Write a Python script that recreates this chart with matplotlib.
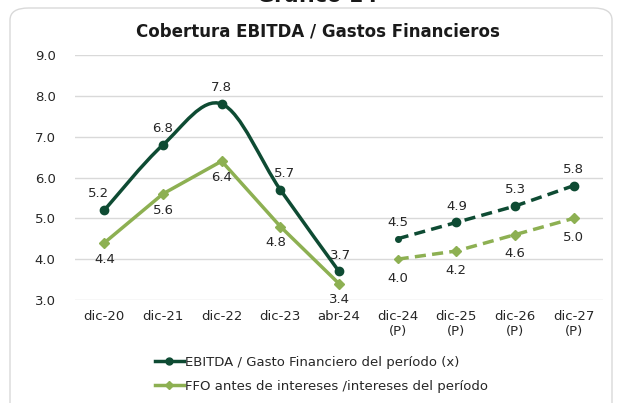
#!/usr/bin/env python3
"""
Cobertura EBITDA / Gastos Financieros: historical and projected coverage ratios.
"""

import numpy as np
import matplotlib
matplotlib.use("Agg")
import matplotlib.pyplot as plt
from matplotlib.path import Path
from matplotlib.patches import PathPatch, FancyBboxPatch
from matplotlib.lines import Line2D

# data
categories = ["dic-20", "dic-21", "dic-22", "dic-23", "abr-24",
              "dic-24\n(P)", "dic-25\n(P)", "dic-26\n(P)", "dic-27\n(P)"]
ebitda_hist = [5.2, 6.8, 7.8, 5.7, 3.7]
ffo_hist = [4.4, 5.6, 6.4, 4.8, 3.4]
ebitda_proj = [4.5, 4.9, 5.3, 5.8]
ffo_proj = [4.0, 4.2, 4.6, 5.0]

DARK = "#0E4B33"
LIGHT = "#8DB052"
TXT = "#262626"


def smooth_path(x, y):
    # Excel-like smoothed line as cubic Bezier segments through the points
    pts = np.column_stack([x, y]).astype(float)
    n = len(pts)
    verts = [pts[0]]
    codes = [Path.MOVETO]
    for i in range(n - 1):
        p0 = pts[i - 1] if i > 0 else pts[i]
        p1 = pts[i]
        p2 = pts[i + 1]
        p3 = pts[i + 2] if i + 2 < n else pts[i + 1]
        c1 = p1 + (p2 - p0) / 6.0
        c2 = p2 - (p3 - p1) / 6.0
        verts += [c1, c2, p2]
        codes += [Path.CURVE4] * 3
    return Path(verts, codes)


def main():
    plt.rcParams["font.family"] = ["DejaVu Sans"]
    fig = plt.figure(figsize=(6.19, 4.03), dpi=100)

    # rounded frame around the chart
    frame = FancyBboxPatch((10 / 619, -0.05), 602 / 619, 1 - 8 / 403 + 0.05,
                           boxstyle="round,pad=0,rounding_size=0.03",
                           transform=fig.transFigure, fc="white",
                           ec="#D9D9D9", lw=1.0, zorder=-5)
    fig.patches.append(frame)

    # clipped heading of the page above the chart
    fig.text(317 / 619, 1 - 1.5 / 403, "Gráfico 14", ha="center", va="baseline",
             fontsize=15, fontweight="bold", color="#1a1a1a")

    ax = fig.add_axes([75 / 619, 1 - 300 / 403, 528 / 619, 245 / 403])
    ax.set_facecolor("none")

    x = np.arange(len(categories))
    xh = x[:len(ebitda_hist)]
    xp = x[len(ebitda_hist):]

    # historical series
    ax.add_patch(PathPatch(smooth_path(xh, ebitda_hist), fc="none",
                           ec=DARK, lw=2.5, capstyle="round", zorder=3))
    ax.plot(xh, ebitda_hist, ls="none", marker="o", ms=6, color=DARK, zorder=4)
    ax.plot(xh, ffo_hist, color=LIGHT, lw=2.5, marker="D", ms=5.5, zorder=3)

    # projections
    ax.plot(xp, ebitda_proj, color=DARK, lw=2.5, ls=(0, (3.2, 1.8)),
            marker="o", ms=6, zorder=3, markevery=[1, 2, 3])
    ax.plot(xp[:1], ebitda_proj[:1], ls="none", marker="o", ms=4, color=DARK, zorder=4)
    ax.plot(xp, ffo_proj, color=LIGHT, lw=2.5, ls=(0, (3.2, 1.8)),
            marker="D", ms=5.5, zorder=3, markevery=[1, 2, 3])
    ax.plot(xp[:1], ffo_proj[:1], ls="none", marker="D", ms=4, color=LIGHT, zorder=4)

    # data labels
    lab = dict(fontsize=9.5, color=TXT, ha="center")
    dark_off = [(-4, 7), (0, 7), (0, 7), (3, 7), (1, 7)]
    for xi, yi, (dx, dy) in zip(xh, ebitda_hist, dark_off):
        ax.annotate(f"{yi:.1f}", (xi, yi), xytext=(dx, dy),
                    textcoords="offset points", va="bottom", **lab)
    light_off = [(0, -7), (0, -7), (0, -7), (-3, -7), (0, -7)]
    for xi, yi, (dx, dy) in zip(xh, ffo_hist, light_off):
        ax.annotate(f"{yi:.1f}", (xi, yi), xytext=(dx, dy),
                    textcoords="offset points", va="top", **lab)
    for xi, yi in zip(xp, ebitda_proj):
        ax.annotate(f"{yi:.1f}", (xi, yi), xytext=(0, 7),
                    textcoords="offset points", va="bottom", **lab)
    for xi, yi in zip(xp, ffo_proj):
        ax.annotate(f"{yi:.1f}", (xi, yi), xytext=(0, -9),
                    textcoords="offset points", va="top", **lab)

    ax.set_xlim(-0.5, len(categories) - 0.5)
    ax.set_ylim(3.0, 9.0)
    ax.set_yticks(np.arange(3, 9.5, 1.0))
    ax.set_yticklabels([f"{v:.1f}" for v in np.arange(3, 9.5, 1.0)])
    ax.set_xticks(x)
    ax.set_xticklabels(categories, linespacing=1.25)
    ax.tick_params(length=0, labelsize=9.5, colors=TXT, pad=7)
    ax.tick_params(axis="y", pad=14)
    ax.grid(axis="y", color="#D9D9D9", lw=1.0)
    ax.set_axisbelow(True)
    for s in ax.spines.values():
        s.set_visible(False)

    fig.text(318 / 619, 1 - 31 / 403, "Cobertura EBITDA / Gastos Financieros",
             ha="center", va="center", fontsize=12, fontweight="bold", color="#1a1a1a")

    handles = [
        Line2D([], [], color=DARK, lw=2.5, marker="o", ms=5),
        Line2D([], [], color=LIGHT, lw=2.5, marker="D", ms=4.5),
    ]
    fig.legend(handles, ["EBITDA / Gasto Financiero del período (x)",
                         "FFO antes de intereses /intereses del período"],
               loc="upper left", bbox_to_anchor=(148 / 619, 1 - 349 / 403),
               frameon=False, fontsize=9.5, handlelength=2.2, handletextpad=0.1,
               labelspacing=0.85, borderpad=0, labelcolor=TXT)

    fig.savefig("out.png", dpi=100)


if __name__ == "__main__":
    main()
